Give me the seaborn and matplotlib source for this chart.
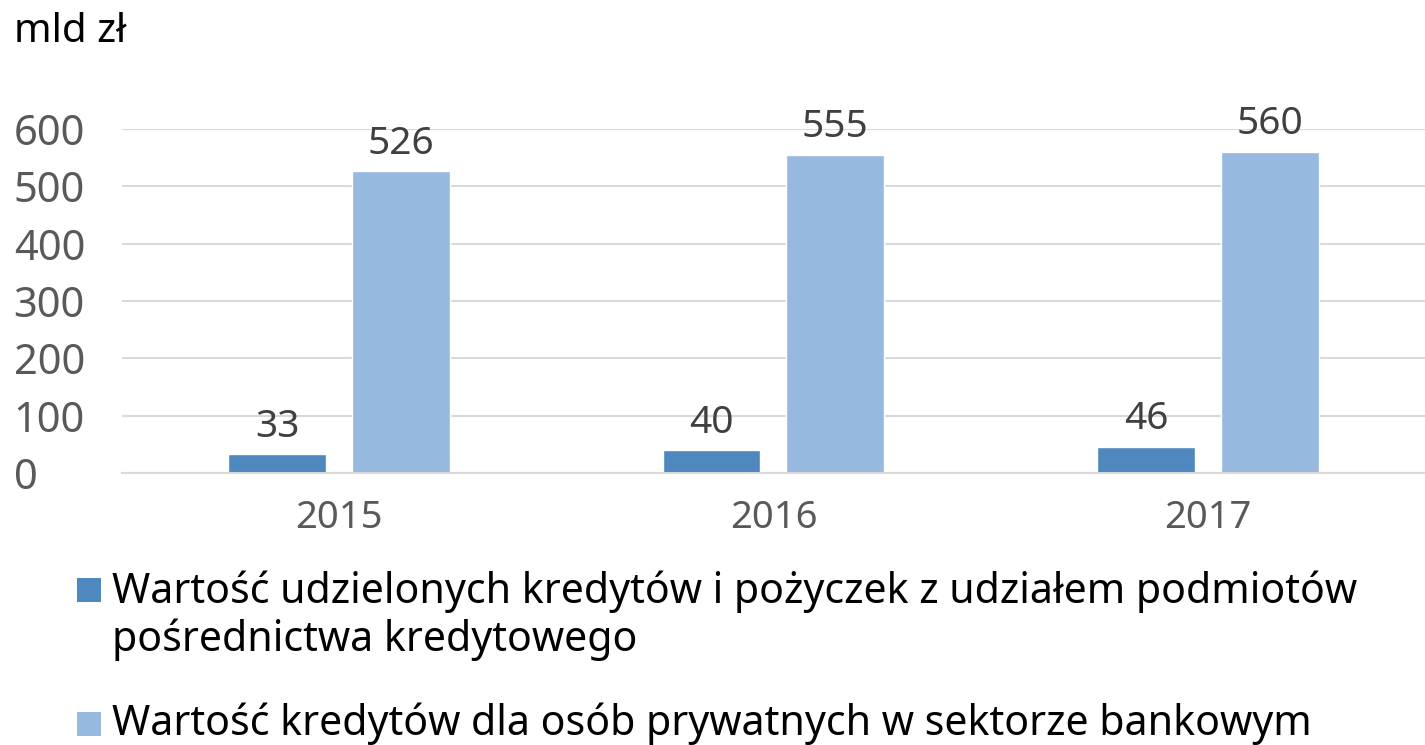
import matplotlib
matplotlib.use("Agg")
import matplotlib.pyplot as plt
import seaborn as sns
import pandas as pd
from matplotlib.patches import Rectangle

years = ["2015", "2016", "2017"]
posrednictwo = [33, 40, 46]
sektor_bankowy = [526, 555, 560]
series_names = [
    "Wartość udzielonych kredytów i pożyczek z udziałem podmiotów pośrednictwa kredytowego",
    "Wartość kredytów dla osób prywatnych w sektorze bankowym",
]
colors = ["#4F88BE", "#97B9DF"]

df = pd.DataFrame({
    "rok": years * 2,
    "wartosc": posrednictwo + sektor_bankowy,
    "seria": [series_names[0]] * 3 + [series_names[1]] * 3,
})

sns.set_style("white")
plt.rcParams["font.family"] = ["Noto Sans", "DejaVu Sans"]

fig = plt.figure(figsize=(14.25, 7.45), dpi=100)
ax = fig.add_axes([0.0856, 0.365, 0.9144, 0.462])

sns.barplot(data=df, x="rok", y="wartosc", hue="seria", palette=colors,
            width=0.57, gap=0.21, ax=ax, legend=False, saturation=1)

for c in ax.containers:
    ax.bar_label(c, padding=6, fontsize=28, color="#404040", clip_on=False)

ax.set_ylim(0, 600)
ax.set_xlim(-0.5, 2.5)
ax.set_yticks(range(0, 601, 100))
ax.yaxis.grid(True, color="#D9D9D9", linewidth=1.5)
ax.set_axisbelow(True)
for s in ["top", "right", "left"]:
    ax.spines[s].set_visible(False)
ax.spines["bottom"].set_color("#D9D9D9")
ax.spines["bottom"].set_linewidth(1.5)
ax.tick_params(axis="y", length=0, labelsize=30, labelcolor="#595959", pad=78)
ax.tick_params(axis="x", length=0, labelsize=27.5, labelcolor="#595959", pad=19)
for lbl in ax.get_yticklabels():
    lbl.set_horizontalalignment("left")
ax.set_xlabel("")
ax.set_ylabel("")

fig.text(0.0098, 1 - 42 / 745, "mld zł", fontsize=29, color="black",
         va="baseline", ha="left")

# legend, drawn by hand so the first marker sits on the first text line
leg_lines = [
    ("Wartość udzielonych kredytów i pożyczek z udziałem podmiotów", 603),
    ("pośrednictwa kredytowego", 651),
    (series_names[1], 735),
]
for txt, yb in leg_lines:
    fig.text(112 / 1425, 1 - yb / 745, txt, fontsize=29.6, color="black",
             va="baseline", ha="left")
for col, ybot in zip(colors, [602, 736]):
    fig.patches.append(Rectangle((77 / 1425, 1 - ybot / 745), 24 / 1425, 24 / 745,
                                 transform=fig.transFigure, facecolor=col,
                                 edgecolor="none"))

fig.savefig("out.png", dpi=100)
